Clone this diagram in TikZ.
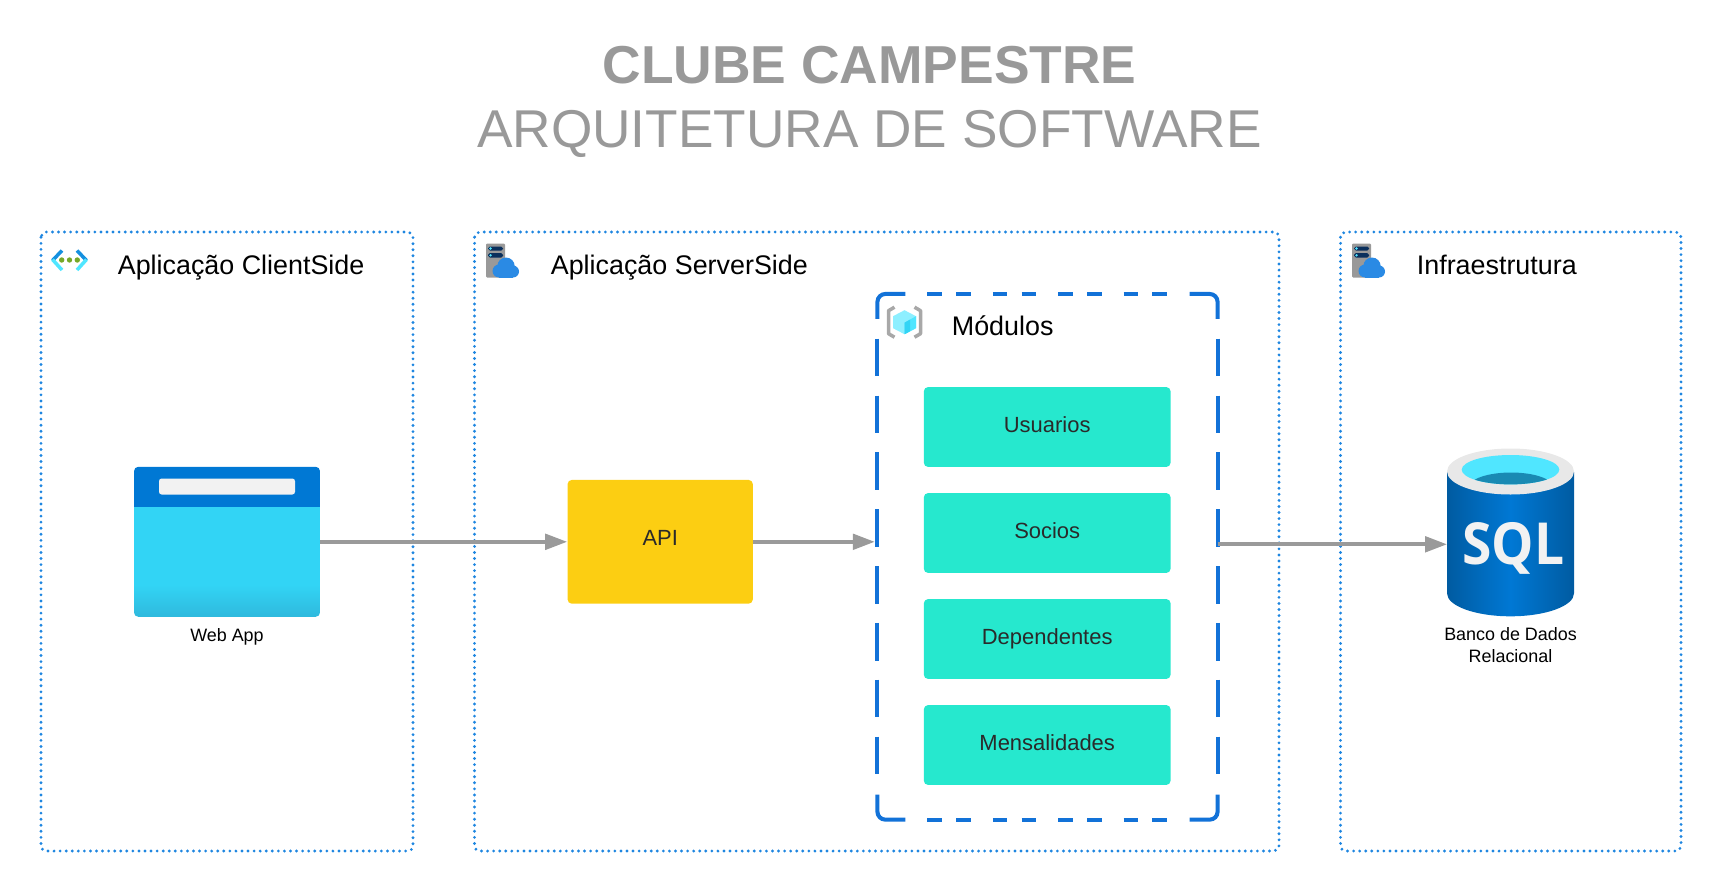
\documentclass[tikz,border=0pt]{standalone}
\usepackage{fontspec}
\setmainfont{Liberation Sans}
\newfontfamily\sqlfont[FakeStretch=0.92]{Open Sans}
\usetikzlibrary{arrows.meta,calc,positioning}

\definecolor{titlegray}{HTML}{999999}
\definecolor{arrowgray}{HTML}{9A9A9A}
\definecolor{dotblue}{HTML}{1E86E0}
\definecolor{modblue}{HTML}{1272D8}
\definecolor{modgreen}{HTML}{26E8CE}
\definecolor{apiyellow}{HTML}{FCCE12}
\definecolor{azuredark}{HTML}{0078D4}
\definecolor{azuremid}{HTML}{005BA1}
\definecolor{azurecyan}{HTML}{32D4F5}
\definecolor{azurecyanb}{HTML}{2FB8DC}
\definecolor{azurelight}{HTML}{50E6FF}
\definecolor{barwhite}{HTML}{F2F2F2}
\definecolor{rimgray}{HTML}{E8E8E8}
\definecolor{wellblue}{HTML}{198AB3}
\definecolor{cloudblue}{HTML}{2A8AE4}
\definecolor{servergray}{HTML}{999999}
\definecolor{slotnavy}{HTML}{0A2F5C}
\definecolor{leafgreen}{HTML}{76A828}
\definecolor{chevblue}{HTML}{1490DF}
\definecolor{textdark}{HTML}{2A2A2A}

\begin{document}
\begin{tikzpicture}[
  x=0.02cm,
  y=-0.02cm,
  line/.style={draw=arrowgray,line width=2.1pt},
  arrow/.style={line,-{Triangle[length=12.5pt,width=8.8pt]}},
  zone/.style={draw=dotblue,line width=1.8pt,line cap=round,dash pattern=on 0pt off 3.45pt,rounded corners=3pt},
  zonelabel/.style={anchor=base west,inner sep=0pt,font=\fontsize{15.3}{18}\selectfont},
  modulecorner/.style={draw=modblue,line width=2.3pt,rounded corners=4.5pt},
  moduleh/.style={draw=modblue,line width=2.3pt,dash pattern=on 8.31pt off 8.1pt on 8.31pt off 12.5pt},
  modulev/.style={draw=modblue,line width=2.3pt,dash pattern=on 21.5pt off 10.85pt},
  modulerow/.style={fill=modgreen,rounded corners=2.5pt,minimum width=140.5pt,minimum height=45.5pt,text=textdark,text height=9pt,text depth=2.8pt,font=\fontsize{12.5}{15}\selectfont},
  apibox/.style={fill=apiyellow,rounded corners=2.5pt,minimum width=105.5pt,minimum height=70.5pt,text=textdark,text height=8.6pt,text depth=4.2pt,font=\fontsize{12.5}{15}\selectfont},
  caption/.style={align=center,font=\fontsize{10.2}{12.4}\selectfont}
]
\useasboundingbox (0,0) rectangle (1723,892);

% Title
\node[text=titlegray,font=\bfseries\fontsize{30.4}{36}\selectfont] (title) at (869.5,65) {CLUBE CAMPESTRE};
\node[text=titlegray,font=\fontsize{30.3}{36}\selectfont] (subtitle) at (869.5,134) {ARQUITETURA DE SOFTWARE};

% Zones
\draw[zone] (41,232) rectangle (413,851);
\draw[zone] (474.5,232) rectangle (1279,851);
\draw[zone] (1340.5,232) rectangle (1681,851);
\node[zonelabel] (clientlabel) at (117.5,274) {Aplicação ClientSide};
\node[zonelabel] (serverlabel) at (550.5,274) {Aplicação ServerSide};
\node[zonelabel] (infralabel) at (1416.5,274) {Infraestrutura};

% Network icon
\begin{scope}[shift={(69.5,260)}]
  \draw[chevblue,line width=2pt] (-17,0.5) -- (-7.5,-9.5);
  \draw[azurelight,line width=2pt] (-17,-0.5) -- (-7.5,10);
  \draw[chevblue,line width=2pt] (17,0.5) -- (7.5,-9.5);
  \draw[azurelight,line width=2pt] (17,-0.5) -- (7.5,10);
  \fill[leafgreen] (-7.8,0) circle (2.7) (0,0) circle (2.7) (7.8,0) circle (2.7);
\end{scope}

% Server cloud icons
\foreach \iconx in {486,1352}{
  \begin{scope}[shift={(\iconx,243.5)}]
    \fill[servergray,rounded corners=0.6pt] (0,0) rectangle (19,34);
    \fill[slotnavy,rounded corners=1pt] (2,3) rectangle (17,7);
    \fill[slotnavy,rounded corners=1pt] (2,9.7) rectangle (17,14);
    \fill[azurelight] (4.5,5) circle (1.3) (4.5,11.8) circle (1.3);
    \fill[cloudblue] (13,27.5) circle (6.5) (20,22.7) circle (8.7) (27,28) circle (6);
    \fill[cloudblue] (13,26) rectangle (27,34);
  \end{scope}
}

% Module icon
\begin{scope}[shift={(904.5,322.2)}]
  \fill[azurelight!65!white] (0,-12) -- (11.5,-6) -- (11.5,6) -- (0,12) -- (-11.5,6) -- (-11.5,-6) -- cycle;
  \fill[azurelight] (0,0.5) -- (11.5,-6) -- (11.5,6) -- (0,12) -- cycle;
  \fill[azurecyan] (0,0.5) -- (5.7,-2.7) -- (5.7,9) -- (0,12) -- cycle;
  \draw[servergray!85!white,line width=2pt,line join=round] (-10,-15) -- (-16,-11.5) -- (-16,11.5) -- (-10,15);
  \draw[servergray!85!white,line width=2pt,line join=round] (10,-15) -- (16,-11.5) -- (16,11.5) -- (10,15);
\end{scope}

% Modules
\node[minimum width=193.2pt,minimum height=298.8pt,inner sep=0pt] (modulos) at (1047.5,556.8) {};
\foreach \corner/\dx/\dy in {north west/28/25,north east/-28/25,south west/28/-25,south east/-28/-25}{
  \draw[modulecorner] ($(modulos.\corner)+(\dx,0)$) -- (modulos.\corner) -- ($(modulos.\corner)+(0,\dy)$);
}
\draw[moduleh] ($(modulos.north west)+(50,0)$) -- ($(modulos.north east)+(-48.5,0)$);
\draw[moduleh] ($(modulos.south west)+(50,0)$) -- ($(modulos.south east)+(-48.5,0)$);
\draw[modulev] ($(modulos.north west)+(0,44.7)$) -- ($(modulos.south west)+(0,-45)$);
\draw[modulev] ($(modulos.north east)+(0,44.7)$) -- ($(modulos.south east)+(0,-45)$);
\node[zonelabel] (moduloslabel) at (951.5,335.5) {Módulos};
\node[modulerow] (usuarios) at (1047.2,427) {Usuarios};
\node[modulerow] (socios) at (1047.2,533) {Socios};
\node[modulerow] (dependentes) at (1047.2,639) {Dependentes};
\node[modulerow] (mensalidades) at (1047.2,745) {Mensalidades};

% Web App
\node[minimum width=105.5pt,minimum height=85pt,inner sep=0pt] (webapp) at (227,541.8) {};
\begin{scope}
  \clip[rounded corners=2.5pt] (webapp.north west) rectangle (webapp.south east);
  \shade[top color=azurecyan,bottom color=azurecyanb] (134,585) rectangle (320,618);
  \fill[azurecyan] (134,506) rectangle (320,585.5);
  \fill[azuredark] (134,466) rectangle (320,506.5);
\end{scope}
\fill[barwhite,rounded corners=1.5pt] (159,478.5) rectangle (295,494.5);
\node[caption,below=3.3pt of webapp] (webcaption) {Web App};

% API
\node[apibox] (api) at (660.2,541.8) {API};

% Database
\node[minimum width=72pt,minimum height=95pt,inner sep=0pt] (sqldb) at (1510.5,532.3) {};
\shade[left color=azuremid,right color=azuremid,middle color=azuredark]
  (1447,472) -- (1447,593.3) arc[start angle=180,end angle=0,x radius=63.5,y radius=23] -- (1574,472) -- cycle;
\fill[rimgray] (1510.5,471.5) ellipse[x radius=63.5,y radius=23];
\fill[azurelight] (1510.5,469.7) ellipse[x radius=48.8,y radius=14.7];
\begin{scope}
  \clip (1510.5,469.7) ellipse[x radius=48.8,y radius=14.7];
  \fill[wellblue] (1511,487) ellipse[x radius=42,y radius=14.5];
\end{scope}
\node[anchor=base,text=barwhite,font=\sqlfont\bfseries\fontsize{33}{40}\selectfont] (sqltext) at (1513.5,564) {SQL};
\node[caption,below=3pt of sqldb] (sqlcaption) {Banco de Dados\\Relacional};

% Connectors
\coordinate (sqlin) at (1447,544.3);
\draw[arrow] (webapp.east) -- (api.west);
\draw[arrow,shorten >=1.5pt] (api.east) -- (api.east -| modulos.west);
\draw[arrow] (modulos.east |- sqlin) -- (sqlin);

\end{tikzpicture}
\end{document}
